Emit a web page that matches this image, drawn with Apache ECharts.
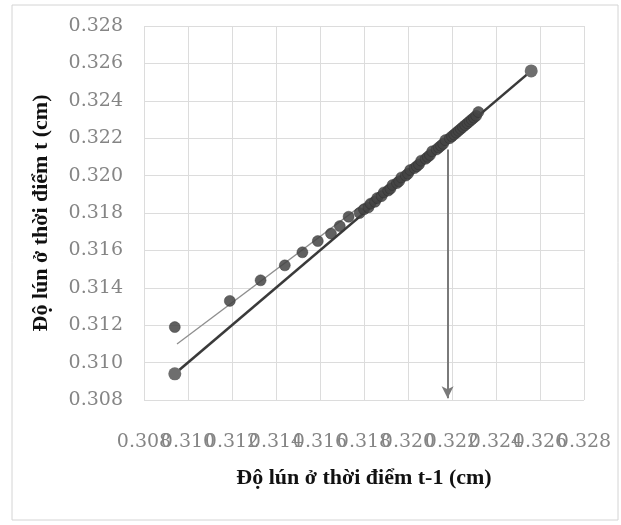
<!DOCTYPE html>
<html>
<head>
<meta charset="utf-8">
<script src="https://cdn.jsdelivr.net/npm/echarts@6/dist/echarts.min.js"></script>
<style>
  html, body { margin: 0; padding: 0; background: #ffffff; }
  #chart { width: 621px; height: 525px; }
</style>
</head>
<body>
<div id="chart"></div>
<script>
// Consecutive settlement readings: value at time t-1 and the next value at time t (cm)
const prevSettle = [0.3094, 0.3119, 0.3133, 0.3144, 0.3152, 0.3159, 0.3165, 0.3169, 0.3173,
  0.3178, 0.3180, 0.3182, 0.3183, 0.3185, 0.3186, 0.3188, 0.3189, 0.3191, 0.3192, 0.3193,
  0.3195, 0.3196, 0.3197, 0.3199, 0.3200, 0.3201, 0.3203, 0.3204, 0.3205, 0.3206, 0.3208,
  0.3209, 0.3210, 0.3211, 0.3213, 0.3214, 0.3215, 0.3216, 0.3217, 0.3219, 0.3220, 0.3221,
  0.3222, 0.3223, 0.3224, 0.3225, 0.3226, 0.3227, 0.3228, 0.3229, 0.3230, 0.3231, 0.3232];
const currSettle = [0.3119, 0.3133, 0.3144, 0.3152, 0.3159, 0.3165, 0.3169, 0.3173, 0.3178,
  0.3180, 0.3182, 0.3183, 0.3185, 0.3186, 0.3188, 0.3189, 0.3191, 0.3192, 0.3193, 0.3195,
  0.3196, 0.3197, 0.3199, 0.3200, 0.3201, 0.3203, 0.3204, 0.3205, 0.3206, 0.3208, 0.3209,
  0.3210, 0.3211, 0.3213, 0.3214, 0.3215, 0.3216, 0.3217, 0.3219, 0.3220, 0.3221, 0.3222,
  0.3223, 0.3224, 0.3225, 0.3226, 0.3227, 0.3228, 0.3229, 0.3230, 0.3231, 0.3232, 0.3234];

// Linear fit through the (t-1, t) pairs
const trendX = [0.3095, 0.3232];
const trendY = [0.3110, 0.3231];

// 45-degree reference line (settlement at t equals settlement at t-1)
const diagX = [0.3094, 0.3256];
const diagY = [0.3094, 0.3256];

// Final settlement where the fitted line meets the 45-degree line
const finalSettle = 0.3218;
const finalTop = 0.3214;
const finalBottom = 0.3081;

// Axis range shared by both axes
const axisMin = 0.308;
const axisMax = 0.328;
const axisStep = 0.002;

const pairs = prevSettle.map((x, i) => [x, currSettle[i]]);
const trendData = trendX.map((x, i) => [x, trendY[i]]);
const diagData = diagX.map((x, i) => [x, diagY[i]]);

const tickFont = { color: '#858585', fontFamily: 'DejaVu Serif', fontSize: 19 };
const titleFont = { color: '#111111', fontFamily: 'Liberation Serif', fontWeight: 'bold', fontSize: 22 };
const gridLine = { show: true, lineStyle: { color: '#dcdcdc', width: 1 } };

// The x tick labels are wider than the tick spacing, so they are split over two
// overlaid axes (even and odd ticks) to keep every label visible.
const tickIndex = v => Math.round((v - axisMin) / axisStep);
const xLabel = parity => v => (tickIndex(v) % 2 === parity ? v.toFixed(3) : '');

function xAxisFor(parity, withGrid) {
  return {
    type: 'value',
    position: 'bottom',
    min: axisMin, max: axisMax, interval: axisStep,
    name: withGrid ? 'Độ lún ở thời điểm t-1 (cm)' : '',
    nameLocation: 'middle',
    nameGap: 67,
    nameTextStyle: titleFont,
    axisLine: { show: false },
    axisTick: { show: false },
    axisLabel: Object.assign({
      margin: 33, hideOverlap: false, showMinLabel: true, showMaxLabel: true,
      formatter: xLabel(parity)
    }, tickFont),
    splitLine: withGrid ? gridLine : { show: false }
  };
}

const chart = echarts.init(document.getElementById('chart'), null, { renderer: 'canvas' });
chart.setOption({
  backgroundColor: '#ffffff',
  animation: false,
  graphic: [{
    type: 'rect',
    shape: { x: 12, y: 5, width: 606, height: 515 },
    style: { fill: 'none', stroke: '#d4d4d4', lineWidth: 1 },
    silent: true
  }],
  grid: { left: 144, right: 37, top: 26, bottom: 125, containLabel: false },
  xAxis: [xAxisFor(0, true), xAxisFor(1, false)],
  yAxis: {
    type: 'value',
    min: axisMin, max: axisMax, interval: axisStep,
    name: 'Độ lún ở thời điểm t (cm)',
    nameLocation: 'middle',
    nameGap: 92,
    nameTextStyle: titleFont,
    axisLine: { show: false },
    axisTick: { show: false },
    axisLabel: Object.assign({
      margin: 21, showMinLabel: true, showMaxLabel: true,
      formatter: v => v.toFixed(3)
    }, tickFont),
    splitLine: gridLine
  },
  series: [
    {
      type: 'line',
      xAxisIndex: 0,
      data: diagData,
      symbol: 'circle',
      symbolSize: 13,
      itemStyle: { color: '#6e6e6e' },
      lineStyle: { color: '#3a3a3a', width: 2.6 },
      z: 2
    },
    {
      type: 'line',
      xAxisIndex: 0,
      data: trendData,
      symbol: 'none',
      lineStyle: { color: '#8e8e8e', width: 1.3 },
      z: 3
    },
    {
      type: 'scatter',
      xAxisIndex: 0,
      data: pairs,
      symbol: 'circle',
      symbolSize: 11,
      itemStyle: { color: '#444444', borderColor: '#2e2e2e', borderWidth: 0.5, opacity: 0.85 },
      z: 4
    },
    {
      type: 'line',
      xAxisIndex: 0,
      data: [],
      markLine: {
        silent: true,
        symbol: ['none', 'arrow'],
        symbolSize: [9, 12],
        label: { show: false },
        lineStyle: { color: '#7a7a7a', width: 2, type: 'solid' },
        data: [[{ coord: [finalSettle, finalTop] }, { coord: [finalSettle, finalBottom] }]]
      },
      z: 5
    }
  ]
});
</script>
</body>
</html>
